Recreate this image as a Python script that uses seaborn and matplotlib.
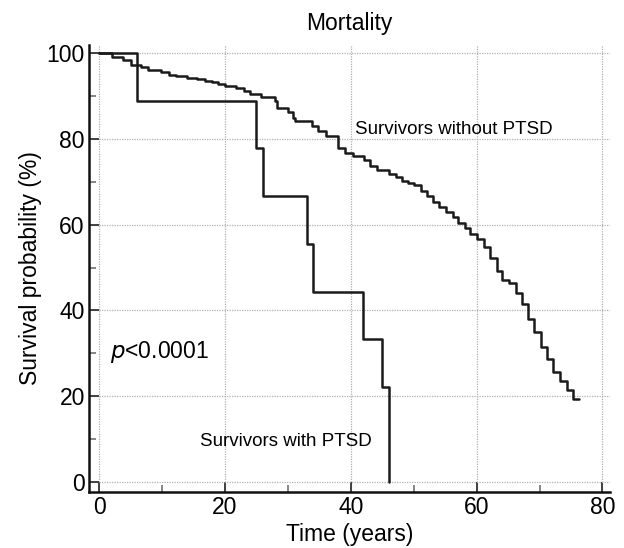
import matplotlib
matplotlib.use("Agg")
import matplotlib.pyplot as plt
from matplotlib.ticker import MultipleLocator
import seaborn as sns
import pandas as pd

# Survivors with PTSD (Kaplan-Meier steps)
ptsd_time = [0, 6, 25, 26, 33, 34, 42, 45, 46]
ptsd_surv = [100, 88.9, 77.8, 66.7, 55.6, 44.4, 33.3, 22.2, 0]

# Survivors without PTSD (Kaplan-Meier steps)
noptsd_time = [0, 2.0, 3.8, 5.0, 6.7, 7.8, 9.9, 11.1, 12.3, 13.9, 15.5, 16.8, 17.9,
               18.9, 20.0, 21.8, 23.0, 24.0, 25.8, 27.9, 28.3, 30.0, 30.8, 31.2,
               33.8, 34.8, 36.1, 38.0, 39.1, 40.3, 42.1, 43.0, 44.1, 46.1, 47.2,
               48.1, 49.1, 50.0, 51.1, 52.1, 53.1, 54.1, 55.1, 56.2, 57.1, 58.1,
               59.0, 60.1, 61.2, 62.1, 63.2, 64.1, 65.2, 66.2, 67.2, 68.2, 69.1,
               70.2, 71.2, 72.2, 73.2, 74.3, 75.3, 76.3]
noptsd_surv = [100, 99.2, 98.5, 97.4, 96.9, 96.1, 95.6, 95.0, 94.7, 94.3, 94.0, 93.6, 93.3,
               92.8, 92.4, 91.9, 91.3, 90.5, 89.9, 88.9, 87.2, 86.4, 84.9, 84.1,
               83.0, 81.8, 80.6, 77.8, 76.7, 76.0, 75.0, 73.6, 72.7, 71.9, 71.1,
               70.3, 69.8, 69.2, 67.8, 66.7, 65.3, 64.1, 63.0, 61.8, 60.5, 59.2,
               57.9, 56.6, 54.7, 52.2, 49.1, 47.1, 46.3, 44.0, 41.6, 38.1, 35.0,
               31.4, 28.7, 25.6, 23.4, 21.3, 19.4, 19.4]

xticks = [0, 20, 40, 60, 80]
yticks = [0, 20, 40, 60, 80, 100]

sns.set_style("white")
plt.rcParams['font.family'] = ['Liberation Sans', 'DejaVu Sans']
plt.rcParams['text.color'] = 'black'
plt.rcParams['axes.labelcolor'] = 'black'
plt.rcParams['xtick.color'] = 'black'
plt.rcParams['ytick.color'] = 'black'

fig = plt.figure(figsize=(6.24, 5.48), dpi=100)
ax = fig.add_axes([0.1426, 0.1022, 0.835, 0.816])

df_p = pd.DataFrame({"t": ptsd_time, "s": ptsd_surv})
df_n = pd.DataFrame({"t": noptsd_time, "s": noptsd_surv})
sns.lineplot(data=df_n, x="t", y="s", ax=ax, color="#1a1a1a", lw=1.8,
             drawstyle="steps-post", estimator=None, sort=False)
sns.lineplot(data=df_p, x="t", y="s", ax=ax, color="#1a1a1a", lw=1.8,
             drawstyle="steps-post", estimator=None, sort=False)

ax.set_xlim(-1.6, 81.2)
ax.set_ylim(-2.4, 102)
ax.set_xticks(xticks)
ax.set_yticks(yticks)
ax.xaxis.set_minor_locator(MultipleLocator(10))
ax.yaxis.set_minor_locator(MultipleLocator(10))
ax.grid(True, which="major", linestyle=(0, (1, 1)), color="#b0b0b0", lw=0.9)
ax.tick_params(which="major", direction="in", length=7, width=1.3, color="#333333",
               labelcolor="black", labelsize=16.5, pad=3)
ax.tick_params(which="minor", direction="in", length=5, width=1.1, color="#666666")
ax.tick_params(axis="x", which="both", bottom=True)
ax.tick_params(axis="y", which="both", left=True)
for side in ["top", "right"]:
    ax.spines[side].set_visible(False)
for side in ["left", "bottom"]:
    ax.spines[side].set_linewidth(1.8)
    ax.spines[side].set_color("#111111")

ax.set_xlabel("Time (years)", fontsize=16.5, labelpad=3, color="black")
ax.set_ylabel("Survival probability (%)", fontsize=16.5, labelpad=3, color="black")
ax.set_title("Mortality", fontsize=16.5, pad=11, color="black")

ax.text(40.6, 82.3, "Survivors without PTSD", fontsize=13.5, va="center", ha="left",
        color="black")
ax.text(16.0, 9.5, "Survivors with PTSD", fontsize=13.5, va="center", ha="left",
        color="black")
ax.text(1.7, 30.4, r"$\it{p}$<0.0001", fontsize=16.5, va="center", ha="left",
        color="black")

fig.savefig("out.png", dpi=100)
